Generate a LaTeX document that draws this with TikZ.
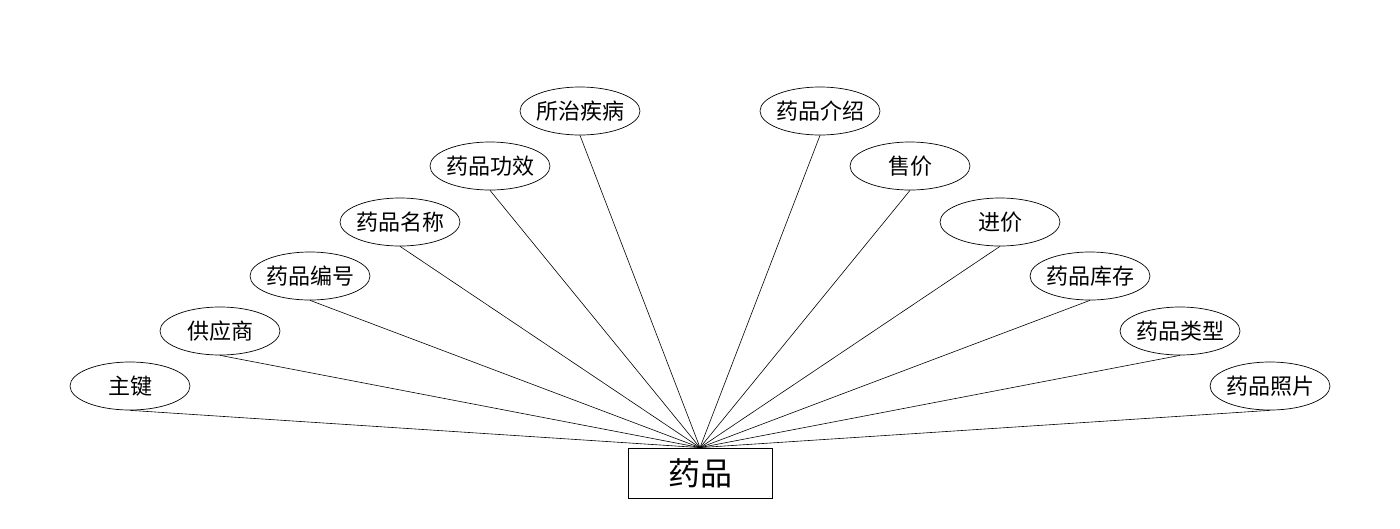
\documentclass[tikz,border=0pt]{standalone}
\usepackage{fontspec}
\newfontfamily\cjk{Noto Sans CJK SC}
\usetikzlibrary{shapes.geometric, positioning}
\tikzset{
  attrnode/.style = {
    ellipse, 
    draw=black, 
    fill=white, 
    font=\cjk\fontsize{22}{25}\selectfont, 
    inner xsep=-6pt, 
    inner ysep=0pt, 
    minimum width=120pt, 
    minimum height=48pt, 
    line width=0.7pt
  },
  entitybox/.style = {
    rectangle, 
    draw=black, 
    fill=white, 
    font=\cjk\fontsize{32}{35}\selectfont, 
    inner sep=0pt, 
    minimum width=144pt, 
    minimum height=50pt, 
    line width=0.8pt
  },
  linkline/.style = {
    draw=black, 
    line width=0.6pt
  }
}

\begin{document}
\begin{tikzpicture}[x=1pt, y=-1pt]
  \useasboundingbox (0,0) rectangle (1400,528);

  % Entity
  \node[entitybox] at (700,473) (drug) {药品};

  % Left attributes
  \node[attrnode] at (130,386) (key) {主键};
  \node[attrnode] at (220,331) (supplier) {供应商};
  \node[attrnode] at (310,276) (code) {药品编号};
  \node[attrnode] at (400,222) (name) {药品名称};
  \node[attrnode] at (490,166) (effect) {药品功效};
  \node[attrnode] at (580,111) (disease) {所治疾病};

  % Right attributes
  \node[attrnode] at (820,111) (intro) {药品介绍};
  \node[attrnode] at (910,166) (price) {售价};
  \node[attrnode] at (1000,222) (cost) {进价};
  \node[attrnode] at (1090,276) (stock) {药品库存};
  \node[attrnode] at (1180,331) (kind) {药品类型};
  \node[attrnode] at (1270,386) (photo) {药品照片};

  % Links
  \draw[linkline] (key.south) -- (drug.north);
  \draw[linkline] (supplier.south) -- (drug.north);
  \draw[linkline] (code.south) -- (drug.north);
  \draw[linkline] (name.south) -- (drug.north);
  \draw[linkline] (effect.south) -- (drug.north);
  \draw[linkline] (disease.south) -- (drug.north);
  \draw[linkline] (intro.south) -- (drug.north);
  \draw[linkline] (price.south) -- (drug.north);
  \draw[linkline] (cost.south) -- (drug.north);
  \draw[linkline] (stock.south) -- (drug.north);
  \draw[linkline] (kind.south) -- (drug.north);
  \draw[linkline] (photo.south) -- (drug.north);
\end{tikzpicture}
\end{document}
